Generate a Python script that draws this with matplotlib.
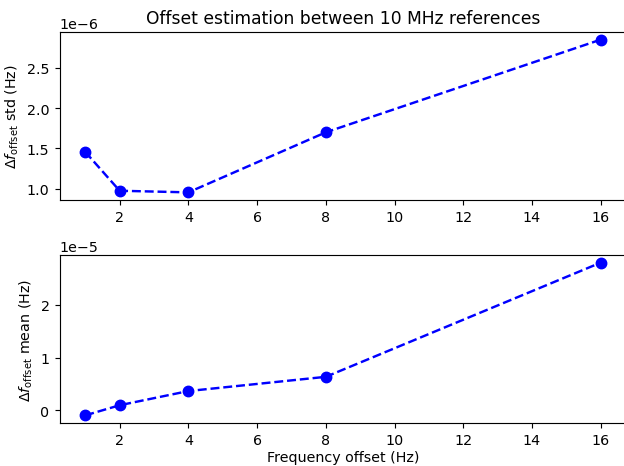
import matplotlib
matplotlib.use('Agg')
import matplotlib.pyplot as plt

freq_offset = [1, 2, 4, 8, 16]
offset_std = [1.457e-6, 0.975e-6, 0.955e-6, 1.70e-6, 2.85e-6]
offset_mean = [-0.096e-5, 0.096e-5, 0.365e-5, 0.635e-5, 2.80e-5]

dpi = 102.5
W, H = 624, 467
fig, (ax1, ax2) = plt.subplots(2, 1, figsize=(W / dpi, H / dpi), dpi=dpi)

ax1.plot(freq_offset, offset_std, 'bo--', markersize=7.3, linewidth=1.7)
ax1.set_title('Offset estimation between 10 MHz references')
ax1.set_ylabel(r'$\Delta f_{\mathrm{offset}}$ std (Hz)')

ax2.plot(freq_offset, offset_mean, 'bo--', markersize=7.3, linewidth=1.7)
ax2.set_xlabel('Frequency offset (Hz)', labelpad=2)
ax2.set_ylabel(r'$\Delta f_{\mathrm{offset}}$ mean (Hz)')

# the original is cropped a little on the right, so the right spine falls off the canvas
ax1.set_position([59.5 / W, 1 - 201 / H, 567 / W, 168 / H])
ax2.set_position([59.5 / W, 1 - 424 / H, 567 / W, 168 / H])

fig.savefig('out.png', dpi=dpi)
